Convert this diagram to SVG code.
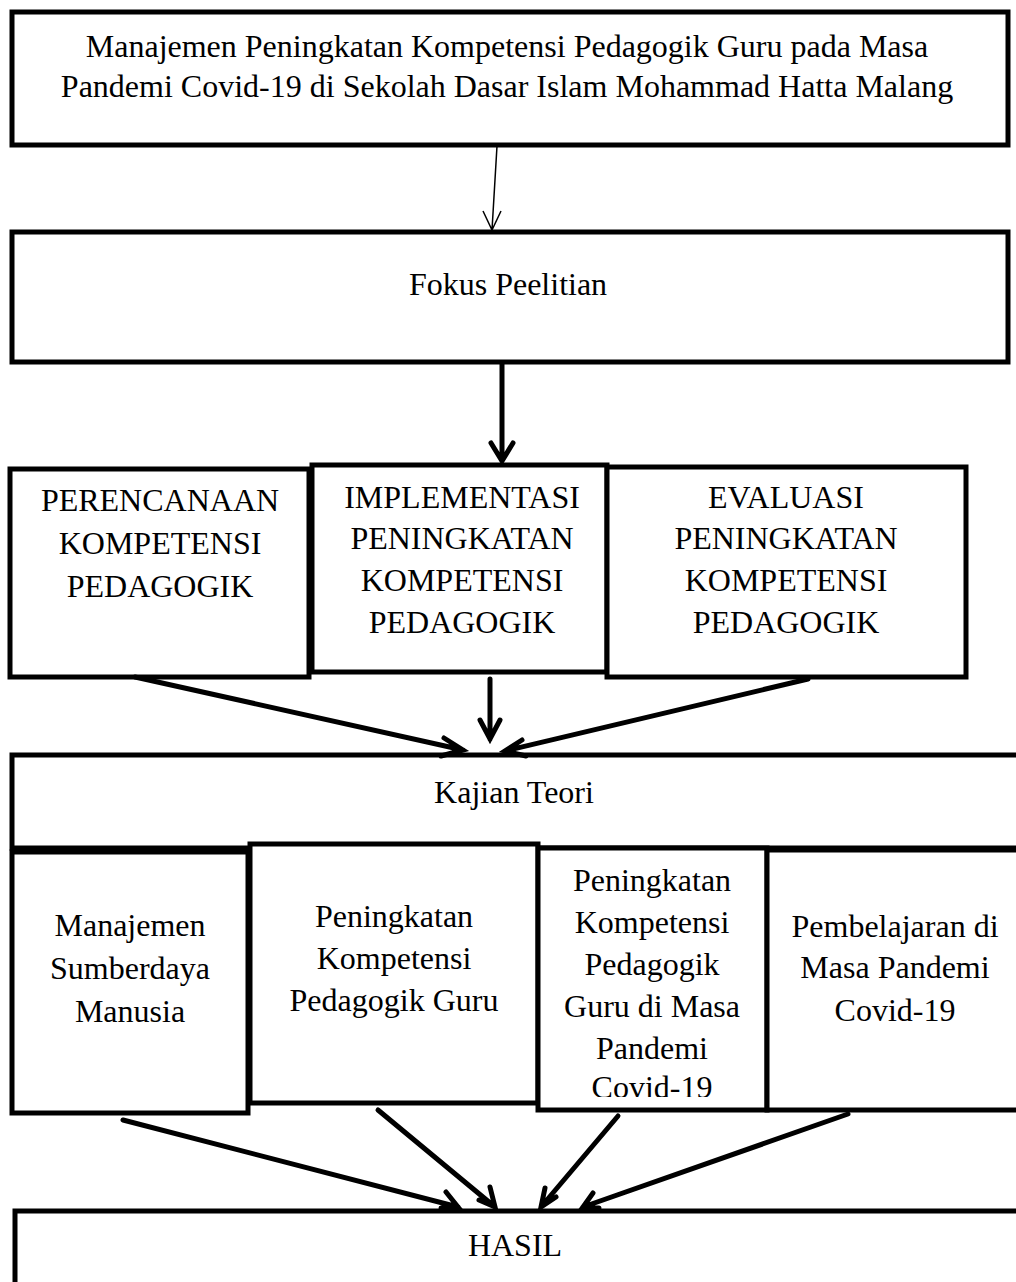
<svg xmlns="http://www.w3.org/2000/svg" width="1016" height="1282" viewBox="0 0 1016 1282">
<style>
.box{fill:#fff;stroke:#000;stroke-width:5}
.t{font-family:"Liberation Serif","Times New Roman",serif;font-size:32px;fill:#000;text-anchor:middle}
.c{fill:none;stroke:#000;stroke-width:5;stroke-linecap:round}
.thin{fill:none;stroke:#000;stroke-width:1.5}
</style>
<defs><clipPath id="clipF"><rect x="538" y="848" width="229" height="249"/></clipPath></defs>
<rect width="1016" height="1282" fill="#fff"/>
<g id="n-title"><rect class="box" x="12" y="12" width="996" height="133"/>
<text class="t" x="507" y="57">Manajemen Peningkatan Kompetensi Pedagogik Guru pada Masa</text>
<text class="t" x="507" y="97">Pandemi Covid-19 di Sekolah Dasar Islam Mohammad Hatta Malang</text></g>
<g id="n-fokus"><rect class="box" x="12" y="232" width="996" height="130"/>
<text class="t" x="508" y="295">Fokus Peelitian</text></g>
<g id="n-perencanaan"><rect class="box" x="10" y="469" width="299" height="208"/>
<text class="t" x="160" y="511">PERENCANAAN</text>
<text class="t" x="160" y="554">KOMPETENSI</text>
<text class="t" x="160" y="597">PEDAGOGIK</text></g>
<g id="n-implementasi"><rect class="box" x="312" y="465" width="295" height="207"/>
<text class="t" x="462" y="508">IMPLEMENTASI</text>
<text class="t" x="462" y="549">PENINGKATAN</text>
<text class="t" x="462" y="591">KOMPETENSI</text>
<text class="t" x="462" y="633">PEDAGOGIK</text></g>
<g id="n-evaluasi"><rect class="box" x="607" y="467" width="359" height="210"/>
<text class="t" x="786" y="508">EVALUASI</text>
<text class="t" x="786" y="549">PENINGKATAN</text>
<text class="t" x="786" y="591">KOMPETENSI</text>
<text class="t" x="786" y="633">PEDAGOGIK</text></g>
<g id="n-kajian"><rect class="box" x="12" y="755" width="1010" height="93"/>
<text class="t" x="514" y="803">Kajian Teori</text></g>
<g id="n-msdm"><rect class="box" x="12" y="852" width="236" height="261"/>
<text class="t" x="130" y="936">Manajemen</text>
<text class="t" x="130" y="979">Sumberdaya</text>
<text class="t" x="130" y="1022">Manusia</text></g>
<g id="n-peningkatan"><rect class="box" x="250" y="844" width="288" height="259"/>
<text class="t" x="394" y="927">Peningkatan</text>
<text class="t" x="394" y="969">Kompetensi</text>
<text class="t" x="394" y="1011">Pedagogik Guru</text></g>
<g id="n-pandemi"><rect class="box" x="538" y="848" width="229" height="262"/>
<g clip-path="url(#clipF)">
<text class="t" x="652" y="891">Peningkatan</text>
<text class="t" x="652" y="933">Kompetensi</text>
<text class="t" x="652" y="975">Pedagogik</text>
<text class="t" x="652" y="1017">Guru di Masa</text>
<text class="t" x="652" y="1059">Pandemi</text>
<text class="t" x="652" y="1098">Covid-19</text></g></g>
<g id="n-pembelajaran"><rect class="box" x="767" y="850" width="255" height="260"/>
<text class="t" x="895" y="937">Pembelajaran di</text>
<text class="t" x="895" y="978">Masa Pandemi</text>
<text class="t" x="895" y="1021">Covid-19</text></g>
<g id="n-hasil"><rect class="box" x="15" y="1211" width="1010" height="80"/>
<text class="t" x="515" y="1256">HASIL</text></g>
<g id="connectors">
<path class="thin" d="M497 146 L492 230 M483 211 L492 230 L501 211"/>
<path class="c" d="M502 364 L502 460 M491 443 L502 461 L513 443"/>
<path class="c" d="M135 677 L463 750 M444 738 L463 750 L441 756"/>
<path class="c" d="M490 679 L490 739 M480 720 L490 739 L500 720"/>
<path class="c" d="M808 679 L505 751 M522 740 L505 751 L526 756"/>
<path class="c" d="M123 1120 L458 1207 M446 1192 L458 1207 L441 1208"/>
<path class="c" d="M378 1110 L495 1207 M490 1187 L495 1207 L479 1200"/>
<path class="c" d="M618 1116 L541 1207 M545 1188 L541 1207 L556 1197"/>
<path class="c" d="M848 1114 L583 1207 M593 1193 L583 1207 L599 1208"/>
</g>
</svg>
